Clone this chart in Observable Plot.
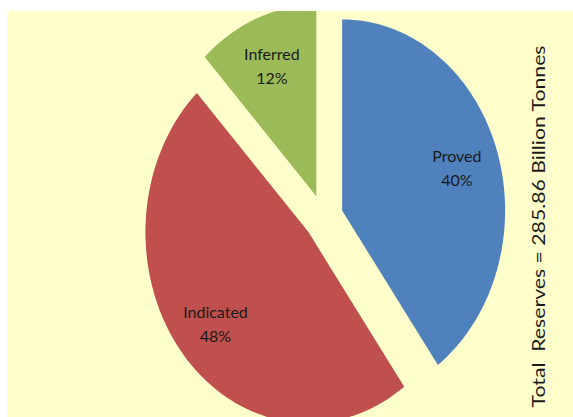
<!DOCTYPE html>
<html>
<head>
<meta charset="utf-8">
<script src="https://cdn.jsdelivr.net/npm/d3@7"></script>
<script src="https://cdn.jsdelivr.net/npm/@observablehq/plot@0.6"></script>
<style>
  html, body { margin: 0; padding: 0; background: #ffffff; }
  #chart { position: absolute; left: 7px; top: 11px; width: 566px; height: 406px; overflow: hidden; }
</style>
</head>
<body>
<div id="chart"></div>
<script>
// Data
const categories = ["Proved", "Indicated", "Inferred"];
const shares = [40, 48, 12];
const colors = ["#4F81BD", "#C0504D", "#9BBB59"];
const totalLabel = "Total  Reserves = 285.86 Billion Tonnes";

const explode = 0.12;   // slice offset, in radius units
const labelR = 0.74;    // label distance from slice apex

const arcs = d3.pie().sort(null).value(d => d)(shares);

const slicePoints = [];
const labels = [];
arcs.forEach((a, i) => {
  const mid = (a.startAngle + a.endAngle) / 2;
  const ox = explode * Math.sin(mid), oy = explode * Math.cos(mid);
  const name = categories[i];
  slicePoints.push({name, x: ox, y: oy});
  const n = Math.max(2, Math.ceil((a.endAngle - a.startAngle) / (Math.PI / 180)));
  for (let k = 0; k <= n; k++) {
    const t = a.startAngle + (a.endAngle - a.startAngle) * k / n;
    slicePoints.push({name, x: ox + Math.sin(t), y: oy + Math.cos(t)});
  }
  slicePoints.push({name, x: ox, y: oy});
  labels.push({
    name,
    x: ox + labelR * Math.sin(mid),
    y: oy + labelR * Math.cos(mid),
    text: `${name}\n${shares[i]}%`
  });
});

const chart = Plot.plot({
  width: 566,
  height: 406,
  margin: 0,
  x: {domain: [-1, 1], range: [153, 479], axis: null},
  y: {domain: [-1, 1], range: [397, 15], axis: null},
  color: {domain: categories, range: colors},
  style: {background: "#FFFFCC", overflow: "hidden"},
  marks: [
    Plot.line(slicePoints, {x: "x", y: "y", z: "name", fill: "name", stroke: "none", curve: "linear"}),
    Plot.text(labels, {x: "x", y: "y", text: "text", fontSize: 16, fontFamily: "Lato", lineHeight: 1.5, fill: "#1a1a1a"}),
    Plot.text([totalLabel], {frameAnchor: "right", textAnchor: "middle", rotate: -90, dx: -34, dy: 12, fontSize: 18, fontFamily: "Lato", fill: "#1a1a1a"})
  ]
});
// stretch the rotated total label along its length, as in the reference
const textGroups = chart.querySelectorAll('g[aria-label="text"]');
const totalText = textGroups[textGroups.length - 1].querySelector("text");
totalText.setAttribute("textLength", 362);
totalText.setAttribute("lengthAdjust", "spacingAndGlyphs");
totalText.setAttribute("xml:space", "preserve");
totalText.style.whiteSpace = "pre";
document.getElementById("chart").appendChild(chart);
</script>
</body>
</html>
